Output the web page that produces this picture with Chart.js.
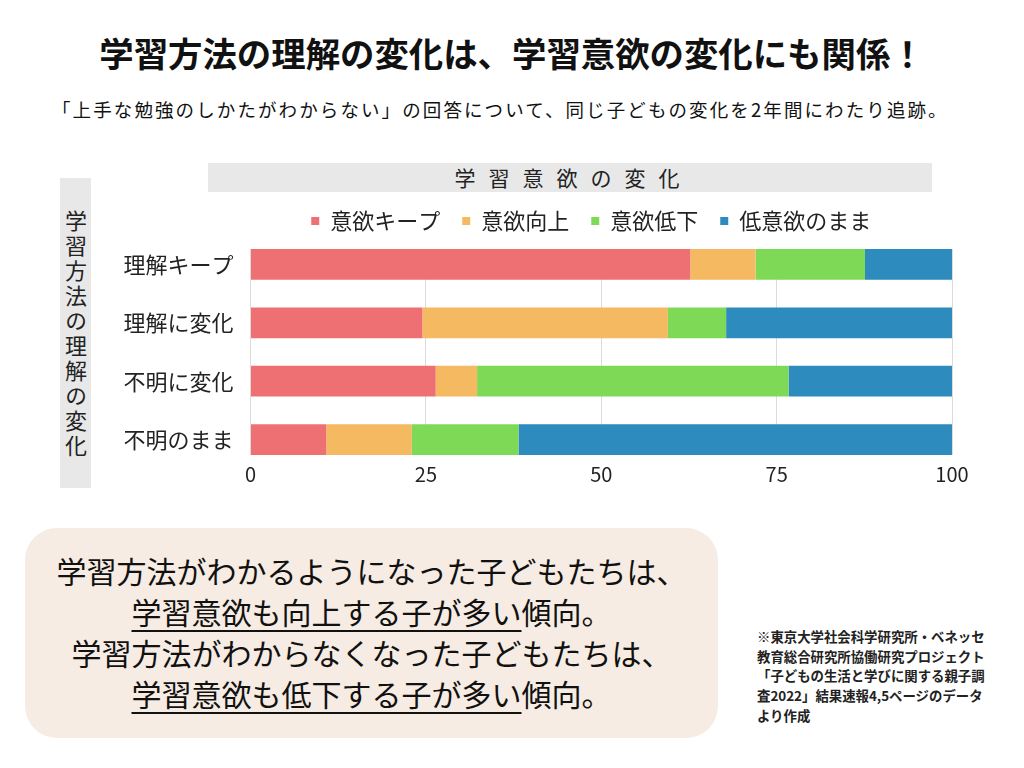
<!DOCTYPE html>
<html lang="ja">
<head>
<meta charset="utf-8">
<title>学習方法の理解の変化と学習意欲の変化</title>
<script src="https://cdn.jsdelivr.net/npm/chart.js@4.4.0/dist/chart.umd.js"></script>
<style>
    html, body { margin: 0; padding: 0; background: #fff; }
    body {
        width: 1024px; height: 768px; position: relative; overflow: hidden;
        font-family: 'Noto Sans CJK JP', sans-serif; color: #111;
    }
    .title {
        position: absolute; left: 0; top: 27px; width: 1024px;
        text-align: center; font-size: 34.4px; font-weight: 700; line-height: 50px;
    }
    .subtitle {
        position: absolute; left: 52px; top: 96px; white-space: nowrap;
        font-size: 18.5px; letter-spacing: 2.1px; line-height: 26px; color: #111;
    }
    .band {
        position: absolute; left: 208px; top: 163px; width: 724px; height: 29px;
        background: #e8e8e8; text-align: center; font-size: 21px; line-height: 29px;
        letter-spacing: 13px; padding-left: 7px; box-sizing: border-box; color: #222;
    }
    .side {
        position: absolute; left: 60px; top: 178px; width: 31px; height: 310px;
        background: #e8e8e8; writing-mode: vertical-rl; text-orientation: upright;
        font-size: 22px; line-height: 31px; letter-spacing: 3px; text-align: center;
        padding-top: 3px; box-sizing: border-box; color: #222;
    }
    #wrap { position: absolute; left: 100px; top: 188px; width: 880px; height: 305px; }
    .note {
        position: absolute; left: 25px; top: 528px; width: 693px; height: 210px;
        border-radius: 32px; background: #f6ece3;
    }
    .note .lines { position: absolute; left: 0; top: 22px; width: 100%; text-align: center; }
    .note .lines div { font-size: 30px; line-height: 41px; white-space: nowrap; }
    .u { text-decoration: underline; text-decoration-thickness: 2px; text-underline-offset: 6px; }
    .source {
        position: absolute; left: 757px; top: 627px; font-size: 13.4px; font-weight: 700;
        line-height: 19.7px; white-space: nowrap; color: #222;
    }
</style>
</head>
<body>
<div class="title">学習方法の理解の変化は、学習意欲の変化にも関係！</div>
<div class="subtitle">「上手な勉強のしかたがわからない」の回答について、同じ子どもの変化を2年間にわたり追跡。</div>
<div class="band">学習意欲の変化</div>
<div class="side">学習方法の理解の変化</div>
<div id="wrap"><canvas id="barChart" width="880" height="305"></canvas></div>
<div class="note">
    <div class="lines">
        <div>学習方法がわかるようになった子どもたちは、</div>
        <div><span class="u">学習意欲も向上する子が多い</span>傾向。</div>
        <div>学習方法がわからなくなった子どもたちは、</div>
        <div><span class="u">学習意欲も低下する子が多い</span>傾向。</div>
    </div>
</div>
<div class="source">※東京大学社会科学研究所・ベネッセ<br>教育総合研究所協働研究プロジェクト<br>「子どもの生活と学びに関する親子調<br>査2022」結果速報4,5ページのデータ<br>より作成</div>

<script>
// 学習方法の理解の変化 (rows, top to bottom)
const categories = ['理解キープ', '理解に変化', '不明に変化', '不明のまま'];

// 学習意欲の変化 (%)
const keepMotivation = [62.7, 24.5, 26.4, 10.8];   // 意欲キープ
const motivationUp   = [9.3, 35.0, 5.9, 12.2];     // 意欲向上
const motivationDown = [15.6, 8.3, 44.4, 15.2];    // 意欲低下
const stayLow        = [12.4, 32.2, 23.3, 61.8];   // 低意欲のまま

const seriesNames = ['意欲キープ', '意欲向上', '意欲低下', '低意欲のまま'];
const xTicks = [0, 25, 50, 75, 100];

const colors = ['#ef7073', '#f5b961', '#7ed957', '#2e8bbd'];

Chart.defaults.font.family = "'Noto Sans CJK JP', sans-serif";
Chart.defaults.color = '#222';

// legend: a bit more room below it, and nudged left like the original
const legendTweak = {
    id: 'legendTweak',
    afterInit(chart) {
        const legend = chart.legend;
        const fit = legend.fit;
        legend.fit = function () {
            fit.call(this);
            this.height += 7;
        };
    },
    afterLayout(chart) {
        chart.legend.left -= 10;
        chart.legend.right -= 10;
    }
};

const ctx = document.getElementById('barChart');
new Chart(ctx, {
    type: 'bar',
    data: {
        labels: categories,
        datasets: [keepMotivation, motivationUp, motivationDown, stayLow].map((vals, i) => ({
            label: seriesNames[i],
            data: vals,
            backgroundColor: colors[i],
            borderWidth: 0,
            categoryPercentage: 1,
            barPercentage: 0.526,
        }))
    },
    options: {
        indexAxis: 'y',
        responsive: false,
        animation: false,
        layout: { padding: { left: 0, right: 28, top: 0, bottom: 0 } },
        plugins: {
            legend: {
                display: true,
                position: 'top',
                fullSize: false,
                labels: {
                    boxWidth: 8,
                    boxHeight: 8,
                    padding: 22,
                    font: { size: 22 },
                    color: '#222',
                }
            },
            tooltip: { enabled: false },
        },
        scales: {
            x: {
                stacked: true,
                min: 0,
                max: 100,
                afterBuildTicks: (scale) => {
                    scale.ticks = xTicks.map(v => ({ value: v }));
                },
                grid: { color: '#dcdcdc', drawTicks: false },
                border: { display: false },
                ticks: { font: { size: 20 }, padding: 7, color: '#222' },
            },
            y: {
                stacked: true,
                grid: { display: false, drawTicks: false },
                border: { display: false },
                ticks: { font: { size: 22 }, padding: 17, color: '#222' },
                afterFit: (scale) => { scale.width = 150.5; },
                // keep only half a bar of space above the first and below the last row
                afterBuildTicks: (scale) => {
                    scale._startValue = -0.263;
                    scale._valueRange = categories.length - 1 + 0.526;
                },
            }
        }
    },
    plugins: [legendTweak]
});
</script>
</body>
</html>
